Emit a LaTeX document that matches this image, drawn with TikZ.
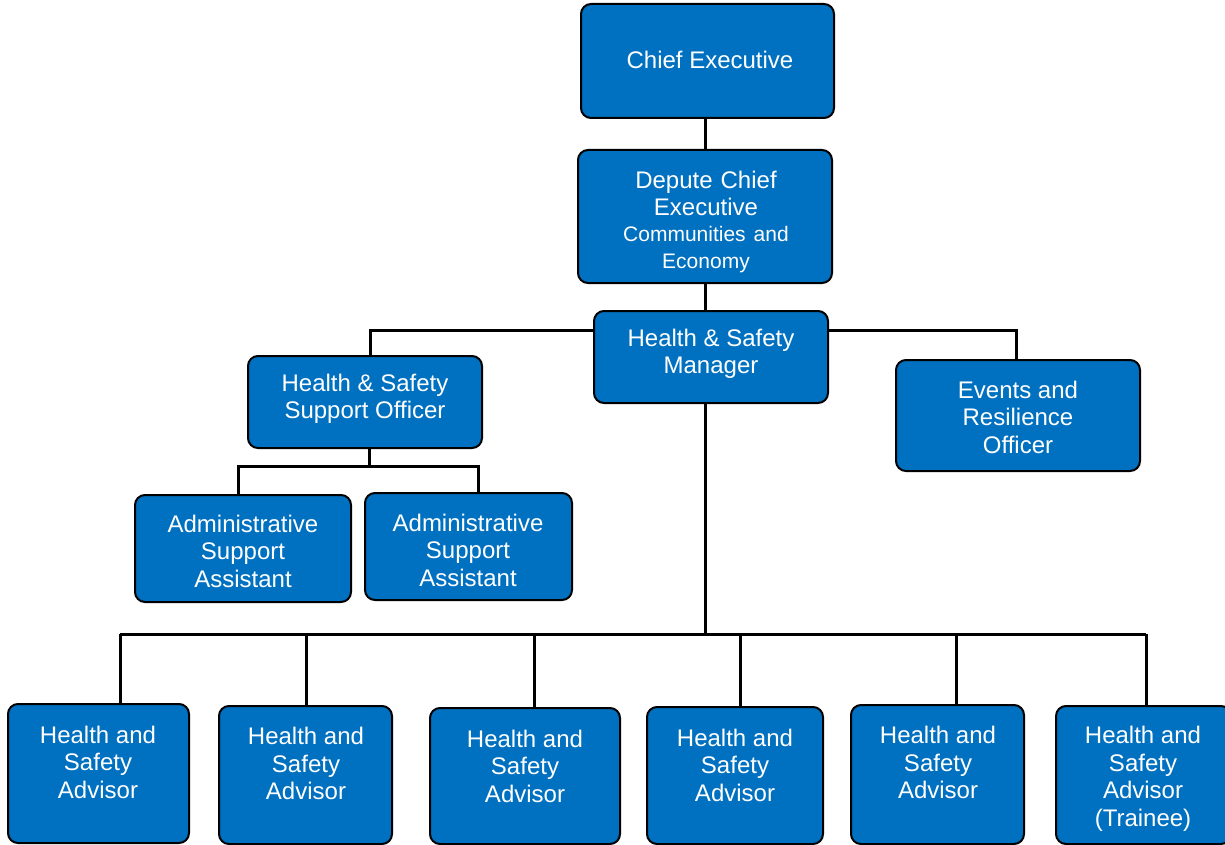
\documentclass[tikz,border=0pt]{standalone}
\usepackage{fontspec}
\setmainfont{Liberation Sans}
\definecolor{boxblue}{HTML}{0070C0}
\begin{document}
\begin{tikzpicture}[x=1pt,y=-1pt,
  box/.style={draw=black,line width=2pt,fill=boxblue,rounded corners=10pt,inner sep=0pt},
  txt/.style={text=white,align=center,inner sep=0pt,font=\fontsize{24}{27.5}\selectfont},
  conn/.style={draw=black,line width=3pt}]
\useasboundingbox (0,0) rectangle (1225,845);
% boxes
\node[box,minimum width=253pt,minimum height=114pt] (ce) at (707.5,61) {};
\node[box,minimum width=254pt,minimum height=133pt] (dce) at (705,216.5) {};
\node[box,minimum width=234pt,minimum height=92pt] (mgr) at (711,357) {};
\node[box,minimum width=234pt,minimum height=92pt] (sso) at (365,402) {};
\node[box,minimum width=244pt,minimum height=111pt] (ero) at (1018,415.5) {};
\node[box,minimum width=216pt,minimum height=107pt] (asa1) at (243,548.5) {};
\node[box,minimum width=207pt,minimum height=107pt] (asa2) at (468.5,546.5) {};
\node[box,minimum width=181pt,minimum height=139pt] (a1) at (98.5,773.5) {};
\node[box,minimum width=173pt,minimum height=138pt] (a2) at (305.5,775) {};
\node[box,minimum width=190pt,minimum height=136pt] (a3) at (525,776) {};
\node[box,minimum width=176pt,minimum height=137pt] (a4) at (735,775.5) {};
\node[box,minimum width=173pt,minimum height=139pt] (a5) at (937.5,774.5) {};
\node[box,minimum width=175pt,minimum height=138pt] (a6) at (1143.5,775) {};
% texts
\node[txt] (tce) at (710,60) {Chief Executive};
\node[txt,text width=240pt] (tdce) at (706,222) {Depute Chief\\Executive\par\fontsize{21}{25.5}\selectfont Communities and\\Economy};
\node[txt] (tmgr) at (711,354) {Health \& Safety\\Manager};
\node[txt] (tsso) at (365,399) {Health \& Safety\\Support Officer};
\node[txt] (tero) at (1018,417) {Events and\\Resilience\\Officer};
\node[txt] (tasa1) at (243,551) {Administrative\\Support\\Assistant};
\node[txt] (tasa2) at (468,550) {Administrative\\Support\\Assistant};
\node[txt] (ta1) at (98,762) {Health and\\Safety\\Advisor};
\node[txt] (ta2) at (306,763.5) {Health and\\Safety\\Advisor};
\node[txt] (ta3) at (525,766) {Health and\\Safety\\Advisor};
\node[txt] (ta4) at (735,765) {Health and\\Safety\\Advisor};
\node[txt] (ta5) at (938,762.5) {Health and\\Safety\\Advisor};
\node[txt] (ta6) at (1143,779) {Health and\\Safety\\Advisor\\(Trainee)};
% junction coordinates
\coordinate (jl) at (370,330);
\coordinate (jr) at (1016,330);
\coordinate (js) at (369,466);
\coordinate (jsa) at (238,466);
\coordinate (jsb) at (478,466);
\coordinate (jm) at (705,634);
\coordinate (jb1) at (120,634);
\coordinate (jb2) at (306,634);
\coordinate (jb3) at (534,634);
\coordinate (jb4) at (740,634);
\coordinate (jb5) at (956,634);
\coordinate (jb6) at (1146,634);
% connectors
\draw[conn] (ce.south -| dce.north) -- (dce.north);
\draw[conn] (dce.south) -- (dce.south |- mgr.north);
\draw[conn] (mgr.west |- jl) -- (jl) -- (jl |- sso.north);
\draw[conn] (mgr.east |- jr) -- (jr) -- (jr |- ero.north);
\draw[conn] (sso.south -| js) -- (js);
\draw[conn] (jsa |- asa1.north) -- (jsa) -- (jsb) -- (jsb |- asa2.north);
\draw[conn] (mgr.south -| jm) -- (jm);
\draw[conn] (jb1) -- (jb6);
\draw[conn] (jb1) -- (jb1 |- a1.north);
\draw[conn] (jb2) -- (jb2 |- a2.north);
\draw[conn] (jb3) -- (jb3 |- a3.north);
\draw[conn] (jb4) -- (jb4 |- a4.north);
\draw[conn] (jb5) -- (jb5 |- a5.north);
\draw[conn] (jb6) -- (jb6 |- a6.north);
\end{tikzpicture}
\end{document}
